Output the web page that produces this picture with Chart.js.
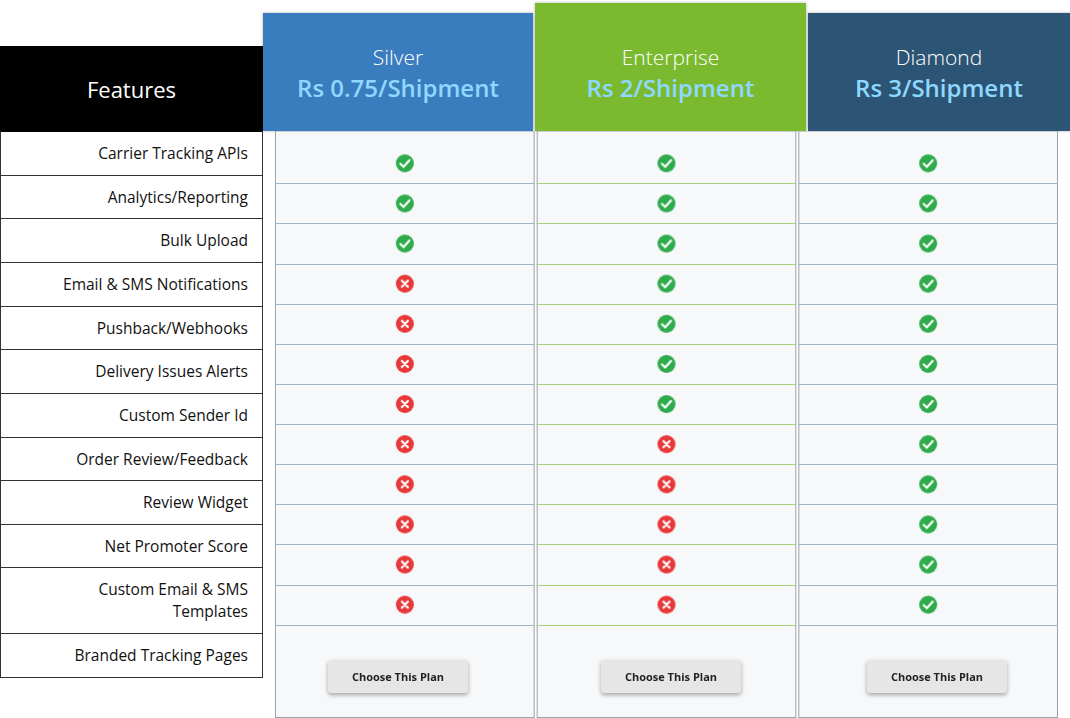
<!DOCTYPE html>
<html><head><meta charset="utf-8">
<script src="https://cdn.jsdelivr.net/npm/chart.js@4/dist/chart.umd.min.js"></script>
<style>
body{margin:0;width:1070px;height:718px;background:#fff;font-family:"Open Sans","Noto Sans",sans-serif;position:relative;overflow:hidden}
.abs{position:absolute;box-sizing:border-box}
.feat{left:0;width:263px;border:1px solid #333;border-top:none;text-align:right;padding-right:14px;font-size:15.5px;color:#111;display:flex;align-items:center;justify-content:flex-end;line-height:22px}
.hd{color:#fff;text-align:center;font-size:21px;font-weight:300;line-height:30px}
.hd b{display:block;font-size:24px;color:#8fd8ff;font-weight:600;line-height:32px}
.btn{width:140px;height:33px;background:#e6e6e6;border-radius:3px;box-shadow:0 2px 4px rgba(0,0,0,.35);font-size:11px;font-weight:bold;color:#222;text-align:center;line-height:33px}
</style></head><body>
<div id="wrap"></div>
<div class="abs" style="left:263px;top:131px;width:807px;height:587px"><canvas id="c" width="807" height="587"></canvas></div>
<script>
const plans=["Silver","Enterprise","Diamond"];
const prices=["Rs 0.75/Shipment","Rs 2/Shipment","Rs 3/Shipment"];
const features=["Carrier Tracking APIs","Analytics/Reporting","Bulk Upload","Email & SMS Notifications","Pushback/Webhooks","Delivery Issues Alerts","Custom Sender Id","Order Review/Feedback","Review Widget","Net Promoter Score","Custom Email & SMS Templates","Branded Tracking Pages"];
const silver=[1,1,1,0,0,0,0,0,0,0,0,0];
const enterprise=[1,1,1,1,1,1,1,0,0,0,0,0];
const diamond=[1,1,1,1,1,1,1,1,1,1,1,1];
const buttonLabel="Choose This Plan";

const wrap=document.getElementById('wrap');
let h='<div class="abs" style="left:0;top:46px;width:263px;height:86px;background:#000;color:#fff;font-size:22px;display:flex;align-items:center;justify-content:center">Features</div>';
const rowTops=[131,175,218,262,306,349,393,437,480,524,567,633,677];
features.forEach((f,i)=>{
  const t=rowTops[i],hh=rowTops[i+1]-t;
  const txt=f==="Custom Email & SMS Templates"?"Custom Email &amp; SMS<br>Templates":f.replace('&','&amp;');
  h+=`<div class="abs feat" style="top:${t}px;height:${hh+1}px">${txt}</div>`;
});
const heads=[[263,13,270,'#3a7dbf'],[535,3,271,'#7bba2f'],[808,13,262,'#2c5475']];
heads.forEach((c,i)=>{
  h+=`<div class="abs hd" style="left:${c[0]}px;top:${c[1]}px;width:${c[2]}px;height:${131-c[1]}px;background:${c[3]};padding-top:${42-c[1]}px;box-shadow:0 0 3px rgba(0,0,0,.3)">${plans[i]}<b>${prices[i]}</b></div>`;
});
wrap.innerHTML=h;

function icon(ok){
  const c=document.createElement('canvas');c.width=c.height=20;const x=c.getContext('2d');
  x.fillStyle=ok?'#2fab4c':'#e8393a';x.beginPath();x.arc(10,10,9,0,Math.PI*2);x.fill();
  x.strokeStyle='#fff';x.lineWidth=2.2;x.lineCap='round';x.beginPath();
  if(ok){x.moveTo(5.5,10.5);x.lineTo(8.7,13.5);x.lineTo(14.5,7);}
  else{x.moveTo(7,7);x.lineTo(13,13);x.moveTo(13,7);x.lineTo(7,13);}
  x.stroke();return c;
}
const okI=icon(true),noI=icon(false);
const cols=[silver,enterprise,diamond];
const datasets=cols.map((arr,ci)=>({
  data:arr.map((v,ri)=>({x:ci+0.5,y:ri})),
  pointStyle:arr.map(v=>v?okI:noI),pointRadius:10
}));
const bg={id:'bg',beforeDatasetsDraw(ch){
  const {ctx,scales:{x,y}}=ch;ctx.save();
  for(let ci=0;ci<3;ci++){
    const l=x.getPixelForValue(ci)+1,r=x.getPixelForValue(ci+1)-1;
    ctx.fillStyle='#f7f8fa';ctx.fillRect(l,0,r-l,ch.height);
    ctx.strokeStyle='#9aa3ad';ctx.lineWidth=1;ctx.strokeRect(l+.5,0,r-l-1,ch.height-0.5);
    ctx.strokeStyle=ci==1?'#a9cf7a':'#9fb4c8';
    for(let ri=0;ri<features.length;ri++){const yy=Math.round(y.getPixelForValue(ri+0.5))+.5;
      ctx.beginPath();ctx.moveTo(l,yy);ctx.lineTo(r,yy);ctx.stroke();}
  }
  ctx.restore();
}};
new Chart(document.getElementById('c'),{type:'scatter',data:{datasets},plugins:[bg],
 options:{responsive:false,animation:false,events:[],layout:{padding:0},
  plugins:{legend:{display:false},tooltip:{enabled:false}},
  scales:{x:{type:'linear',min:0,max:3,display:false},y:{type:'linear',min:-0.53,max:13.55,reverse:true,display:false}}}});
const centers=[398,671,937];
centers.forEach(cx=>{const d=document.createElement('div');d.className='abs btn';d.style.left=(cx-70)+'px';d.style.top='660px';d.textContent=buttonLabel;document.body.appendChild(d);});
</script>
</body></html>
